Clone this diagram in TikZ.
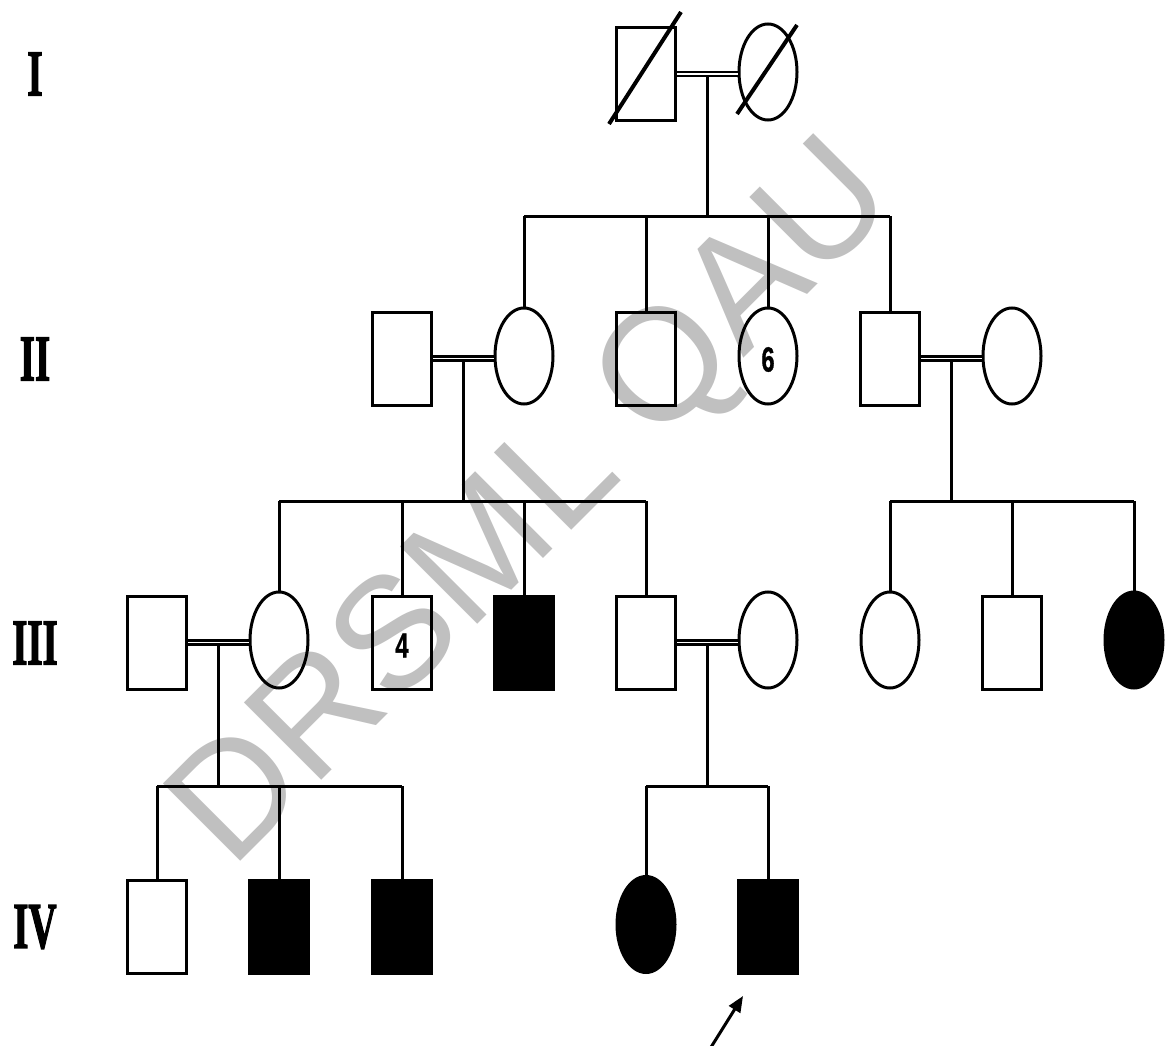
\documentclass[tikz,border=0pt]{standalone}
\usepackage{fontspec}
\usepackage{graphicx}
\usetikzlibrary{arrows.meta,calc,shapes.geometric}
\newfontfamily\wmfont{Liberation Sans}
\newfontfamily\numfont{Liberation Sans}[BoldFeatures={FakeBold=1}]
\newfontfamily\genfont{Liberation Serif}[BoldFeatures={FakeBold=2.5}]
\definecolor{wmgray}{RGB}{192,192,192}
\begin{document}
\begin{tikzpicture}[x=1pt,y=-1pt,
  line width=3pt,
  male/.style={draw, rectangle, minimum width=59pt, minimum height=93pt, inner sep=0pt},
  female/.style={draw, ellipse, minimum width=58pt, minimum height=96pt, inner sep=0pt},
  affected/.style={fill=black},
  mate/.style={double, line width=2.4pt, double distance=1.7pt},
  deceased/.style={line width=4pt},
  gen/.style={inner sep=0pt, font=\genfont\bfseries\fontsize{65pt}{65pt}\selectfont},
  digit/.style={inner sep=0pt, font=\numfont\bfseries\fontsize{35pt}{35pt}\selectfont},
  wm/.style={anchor=base, rotate=45, inner sep=0pt, text=wmgray,
    font=\wmfont\fontsize{159pt}{159pt}\selectfont},
  proband/.style={line width=3pt, -{Triangle[length=16pt,width=13pt]}}
]
\useasboundingbox (0,0) rectangle (1165,1046);

% watermark behind the pedigree
\node[wm] (mark) at (565.5,536.5) {DRSML QAU};

% generation labels
\node[gen] (gI)   at (35,74)    {\scalebox{0.6}[1]{I}};
\node[gen] (gII)  at (35,359)   {\scalebox{0.6}[1]{II}};
\node[gen] (gIII) at (35,643)   {\scalebox{0.6}[1]{III}};
\node[gen] (gIV)  at (35,927)   {\scalebox{0.6}[1]{IV}};

% generation I
\node[male]   (I1) at (646,74) {};
\node[female] (I2) at (768,72) {};

% generation II
\node[male]   (II1) at (402,358.5) {};
\node[female] (II2) at (524,356) {};
\node[male]   (II3) at (646,358.5) {};
\node[female] (II4) at (768,356) {};
\node[male]   (II5) at (890,358.5) {};
\node[female] (II6) at (1012,356) {};

% generation III
\node[male]             (III1) at (157,642.5) {};
\node[female]           (III2) at (279,640) {};
\node[male]             (III3) at (402,642.5) {};
\node[male,affected]    (III4) at (524,642.5) {};
\node[male]             (III5) at (646,642.5) {};
\node[female]           (III6) at (768,640) {};
\node[female]           (III7) at (890,640) {};
\node[male]             (III8) at (1012,642.5) {};
\node[female,affected]  (III9) at (1134,640) {};

% generation IV
\node[male]             (IV1) at (157,927) {};
\node[male,affected]    (IV2) at (279,927) {};
\node[male,affected]    (IV3) at (402,927) {};
\node[female,affected]  (IV4) at (646,924.5) {};
\node[male,affected]    (IV5) at (768,927) {};

% sibship numbers
\node[digit] (n6) at ($(II4.center)+(0,3.5)$) {\scalebox{0.68}[1]{6}};
\node[digit] (n4) at ($(III3.center)+(0,3)$) {\scalebox{0.68}[1]{4}};

% sibship line heights
\coordinate (sII)  at (0,216);
\coordinate (sIII) at (0,501);
\coordinate (sIV)  at (0,786);

% mating points
\coordinate (mI)    at ($(I1.east)!0.5!(I1.east -| I2.west)$);
\coordinate (mIIa)  at ($(II1.east)!0.5!(II1.east -| II2.west)$);
\coordinate (mIIb)  at ($(II5.east)!0.5!(II5.east -| II6.west)$);
\coordinate (mIIIa) at ($(III1.east)!0.5!(III1.east -| III2.west)$);
\coordinate (mIIIb) at ($(III5.east)!0.5!(III5.east -| III6.west)$);

% descent lines
\draw (mI) -- (mI |- sII);
\draw (mIIa) -- (mIIa |- sIII);
\draw (mIIb) -- (mIIb |- sIII);
\draw (mIIIa) -- (mIIIa |- sIV);
\draw (mIIIb) -- (mIIIb |- sIV);

% sibship lines
\draw (II2 |- sII) -- (II5 |- sII);
\draw (III2 |- sIII) -- (III5 |- sIII);
\draw (III7 |- sIII) -- (III9 |- sIII);
\draw (IV1 |- sIV) -- (IV3 |- sIV);
\draw (IV4 |- sIV) -- (IV5 |- sIV);

% individual lines
\foreach \c in {II2,II3,II4,II5} \draw (\c |- sII) -- (\c.north);
\foreach \c in {III2,III3,III4,III5,III7,III8,III9} \draw (\c |- sIII) -- (\c.north);
\foreach \c in {IV1,IV2,IV3,IV4,IV5} \draw (\c |- sIV) -- (\c.north);

% consanguineous matings
\draw[mate] (I1.east) -- (I1.east -| I2.west);
\draw[mate] (II1.east) -- (II1.east -| II2.west);
\draw[mate] (II5.east) -- (II5.east -| II6.west);
\draw[mate] (III1.east) -- (III1.east -| III2.west);
\draw[mate] (III5.east) -- (III5.east -| III6.west);

% deceased founders
\draw[deceased] ($(I1.center)+(-37,50)$) -- ($(I1.center)+(35,-62)$);
\draw[deceased] ($(I2.center)+(-31,42)$) -- ($(I2.center)+(29,-47)$);

% proband arrow
\coordinate (ptail) at (708,1052);
\coordinate (ptip)  at (743,996);
\draw[proband] (ptail) -- (ptip);
\end{tikzpicture}
\end{document}
